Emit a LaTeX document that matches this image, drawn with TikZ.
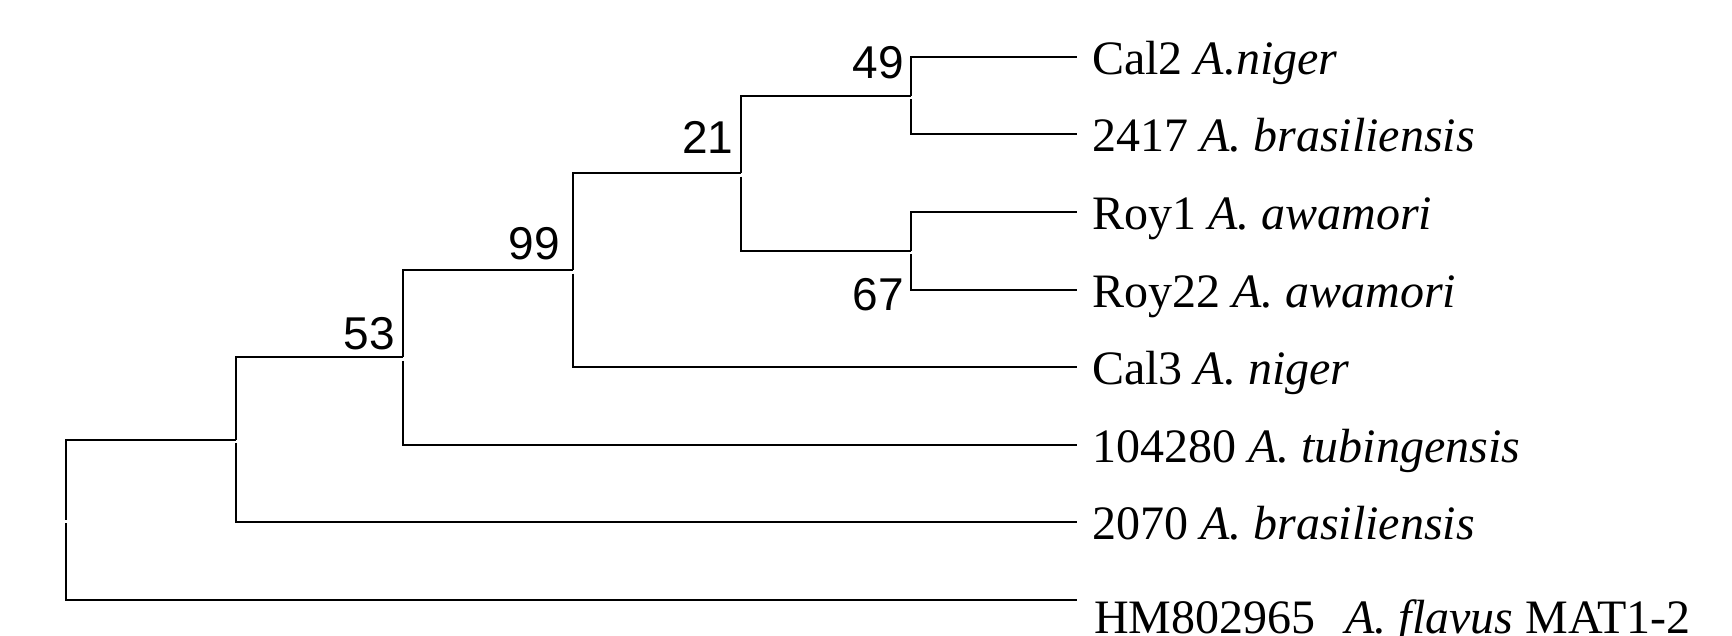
\documentclass[tikz,border=0pt]{standalone}
\usepackage{fontspec}
\setmainfont{Liberation Serif}
\newfontfamily\supportfont{Liberation Sans}

% two edges of a clade: upper edge from the node up to the first child,
% lower edge (starting just below the node) down to the second child
\newcommand{\cladeedges}[3]{%
  \draw[branch] (#1) |- (#2);
  \draw[branch] ([yshift=-3.5pt]#1) |- (#3);}

\begin{document}
\begin{tikzpicture}[x=1pt,y=-1pt,
  branch/.style={draw=black, line width=2pt, line join=miter},
  tiplabel/.style={anchor=base west, inner sep=0pt, font=\fontsize{48}{57}\selectfont},
  support/.style={anchor=base east, inner sep=0pt, font=\supportfont\fontsize{46}{55}\selectfont}]
\useasboundingbox (0,0) rectangle (1732,635);
\clip (0,0) rectangle (1732,635);
\fill[white] (0,0) rectangle (1732,635);

% tips
\coordinate (t1) at (1077,56.7);
\coordinate (t2) at (1077,134.3);
\coordinate (t3) at (1077,211.9);
\coordinate (t4) at (1077,289.5);
\coordinate (t5) at (1077,367.1);
\coordinate (t6) at (1077,444.7);
\coordinate (t7) at (1077,522.3);
\coordinate (t8) at (1077,599.9);

% internal nodes
\coordinate (n49)  at (911,95.5);
\coordinate (n67)  at (911,250.7);
\coordinate (n21)  at (741,173.1);
\coordinate (n99)  at (573,270.1);
\coordinate (n53)  at (403,357.4);
\coordinate (nA)   at (236,439.9);
\coordinate (root) at (66,519.9);

% branches
\cladeedges{n49}{t1}{t2}
\cladeedges{n67}{t3}{t4}
\cladeedges{n21}{n49}{n67}
\cladeedges{n99}{n21}{t5}
\cladeedges{n53}{n99}{t6}
\cladeedges{nA}{n53}{t7}
\cladeedges{root}{nA}{t8}

% tip labels
\node[tiplabel] (l1) at (1092,74.3)  {Cal2 \textit{A.niger}};
\node[tiplabel] (l2) at (1092,151.9) {2417 \textit{A. brasiliensis}};
\node[tiplabel] (l3) at (1092,229.5) {Roy1 \textit{A. awamori}};
\node[tiplabel] (l4) at (1092,307.1) {Roy22 \textit{A. awamori}};
\node[tiplabel] (l5) at (1092,384.7) {Cal3 \textit{A. niger}};
\node[tiplabel] (l6) at (1092,462.3) {104280 \textit{A. tubingensis}};
\node[tiplabel] (l7) at (1092,539.3) {2070 \textit{A. brasiliensis}};
\node[tiplabel] (l8) at (1094,633.5) {HM802965\hspace{30pt}\textit{A. flavus} MAT1-2};

% support values
\node[support] (s49) at (904,78)    {49};
\node[support] (s21) at (733.5,153.3) {21};
\node[support] (s99) at (560,259)   {99};
\node[support] (s53) at (395,349)   {53};
\node[support] (s67) at (904,310)   {67};
\end{tikzpicture}
\end{document}
